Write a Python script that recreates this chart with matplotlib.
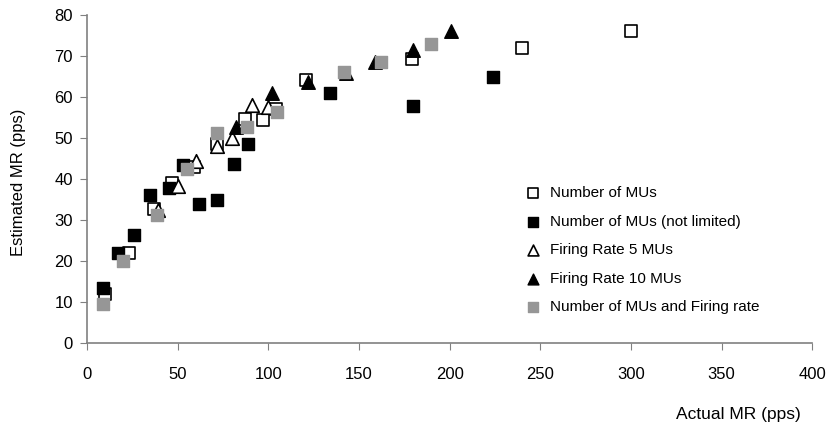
import matplotlib
matplotlib.use("Agg")
import matplotlib.pyplot as plt

# actual vs estimated MR (pps) for each estimation method
mus_x = [10, 23, 37, 47, 59, 72, 87, 97, 104, 121, 179, 240, 300]
mus_y = [12, 22, 32.7, 39, 42.8, 48.4, 54.6, 54.3, 57, 64, 69.3, 72, 76]

mus_nl_x = [9, 17, 26, 35, 45, 53, 62, 72, 81, 89, 134, 180, 224]
mus_nl_y = [13.5, 22, 26.3, 36.2, 37.8, 43.4, 33.9, 34.8, 43.7, 48.4, 61, 57.8, 64.8]

fr5_x = [39, 50, 60, 72, 80, 91, 100]
fr5_y = [32.4, 38.3, 44.4, 48, 49.9, 58, 57.5]

fr10_x = [82, 102, 122, 143, 159, 180, 201]
fr10_y = [52.6, 61, 63.6, 65.7, 68.6, 71.4, 76]

both_x = [9, 20, 38.5, 55, 72, 88, 105, 142, 162, 190]
both_y = [9.6, 19.9, 31.2, 42.5, 51.3, 52.6, 56.4, 66.1, 68.6, 72.8]

labels = ["Number of MUs", "Number of MUs (not limited)", "Firing Rate 5 MUs",
          "Firing Rate 10 MUs", "Number of MUs and Firing rate"]

plt.rcParams["font.family"] = ["Liberation Sans", "DejaVu Sans"]

fig = plt.figure(figsize=(8.28, 4.23), dpi=100)
ax = fig.add_axes([0.105, 0.189, 0.876, 0.776])

ax.scatter(mus_x, mus_y, marker="s", s=70, facecolor="white",
           edgecolor="black", linewidth=1.2, label=labels[0], zorder=3)
ax.scatter(mus_nl_x, mus_nl_y, marker="s", s=70, color="black",
           label=labels[1], zorder=4)
ax.scatter(fr5_x, fr5_y, marker="^", s=95, facecolor="white",
           edgecolor="black", linewidth=1.2, label=labels[2], zorder=5)
ax.scatter(fr10_x, fr10_y, marker="^", s=95, color="black",
           label=labels[3], zorder=6)
ax.scatter(both_x, both_y, marker="s", s=70, color="#969696",
           label=labels[4], zorder=7)

ax.set_xlim(0, 400)
ax.set_ylim(0, 80)
ax.set_xticks(range(0, 401, 50))
ax.set_yticks(range(0, 81, 10))
ax.tick_params(axis="x", direction="out", length=5, width=0.8,
               color="#808080", labelsize=12, pad=12)
ax.tick_params(axis="y", direction="out", length=5, width=0.8,
               color="#808080", labelsize=12, pad=5)
for side in ("top", "right"):
    ax.spines[side].set_visible(False)
for side in ("left", "bottom"):
    ax.spines[side].set_color("#808080")
    ax.spines[side].set_linewidth(1.2)

fig.text(0.967, 0.019, "Actual MR (pps)", ha="right", va="center", fontsize=12.5)
fig.text(0.022, 0.57, "Estimated MR (pps)", ha="center", va="center",
         rotation=90, fontsize=12)

leg = ax.legend(loc="upper left", bbox_to_anchor=(0.625, 0.578),
                bbox_transform=fig.transFigure, frameon=False, fontsize=11,
                handletextpad=0.6, labelspacing=0.95, borderpad=0,
                handlelength=1.0, scatterpoints=1, markerscale=0.8)

fig.savefig("out.png", dpi=100)
